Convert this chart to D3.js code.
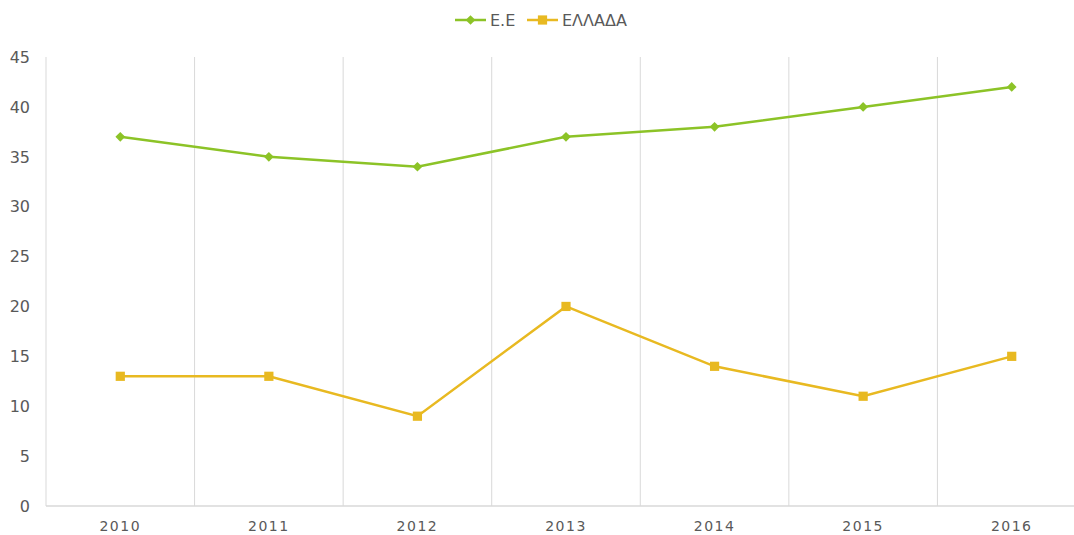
<!DOCTYPE html>
<html><head><meta charset="utf-8">
<script src="https://cdn.jsdelivr.net/npm/d3@7"></script>
<style>body{margin:0;background:#fff;}svg{display:block;}</style>
</head><body><svg id="c" width="1074" height="535"></svg>
<script>
const years = ["2010","2011","2012","2013","2014","2015","2016"];
const euValues = [37,35,34,37,38,40,42];
const grValues = [13,13,9,20,14,11,15];
const yTicks = [0,5,10,15,20,25,30,35,40,45];
const seriesNames = ["Ε.Ε","ΕΛΛΑΔΑ"];

const svg = d3.select("#c");
const font = "'DejaVu Sans', sans-serif";
const green = "#8cc327", yellow = "#e8b921";
const x = d3.scaleBand().domain(years).range([46, 1086]);
const y = d3.scaleLinear().domain([0,45]).range([506, 57]);

const bounds = years.map(d => x(d)).slice(1);
svg.append("g").selectAll("line").data(bounds).join("line")
  .attr("x1", d=>d).attr("x2", d=>d).attr("y1", y(45)).attr("y2", y(0))
  .attr("stroke", "#d9d9d9").attr("stroke-width", 1);
svg.append("line").attr("x1",46).attr("x2",46).attr("y1",y(45)).attr("y2",y(0)).attr("stroke","#d9d9d9");
svg.append("line").attr("x1",46).attr("x2",1086).attr("y1",y(0)).attr("y2",y(0)).attr("stroke","#d9d9d9").attr("stroke-width",1.5);

svg.append("g").selectAll("text").data(yTicks).join("text")
  .attr("x", 30).attr("y", d=>y(d)).attr("dy","0.36em").attr("text-anchor","end")
  .attr("font-family", font).attr("font-size", 16).attr("fill", "#595959").text(d=>d);
svg.append("g").selectAll("text").data(years).join("text")
  .attr("x", d=>x(d)+x.bandwidth()/2).attr("y", 531).attr("text-anchor","middle")
  .attr("font-family", font).attr("font-size", 14).attr("letter-spacing", "1.5px").attr("fill", "#595959").text(d=>d);

const cx = d => x(d)+x.bandwidth()/2;
const line = d3.line().x((d,i)=>cx(years[i])).y(d=>y(d));
svg.append("path").datum(euValues).attr("d", line).attr("fill","none").attr("stroke",green).attr("stroke-width",2.5);
svg.append("path").datum(grValues).attr("d", line).attr("fill","none").attr("stroke",yellow).attr("stroke-width",2.5);

const diamond = d3.symbol().type(d3.symbolDiamond2).size(60);
const square = d3.symbol().type(d3.symbolSquare).size(85);
svg.append("g").selectAll("path").data(euValues).join("path")
  .attr("transform",(d,i)=>`translate(${cx(years[i])},${y(d)})`).attr("d", diamond).attr("fill", green);
svg.append("g").selectAll("path").data(grValues).join("path")
  .attr("transform",(d,i)=>`translate(${cx(years[i])},${y(d)})`).attr("d", square).attr("fill", yellow);

const lg = svg.append("g");
const items = [{n:seriesNames[0], c:green, s:diamond, x0:455},{n:seriesNames[1], c:yellow, s:square, x0:527}];
items.forEach(it=>{
  lg.append("line").attr("x1",it.x0).attr("x2",it.x0+31).attr("y1",20).attr("y2",20).attr("stroke",it.c).attr("stroke-width",2.5);
  lg.append("path").attr("transform",`translate(${it.x0+15.5},20)`).attr("d",it.s).attr("fill",it.c);
  lg.append("text").attr("x",it.x0+35).attr("y",20).attr("dy","0.36em").attr("font-family",font).attr("font-size",16)
    .attr("fill","#595959").text(it.n);
});
</script></body></html>
